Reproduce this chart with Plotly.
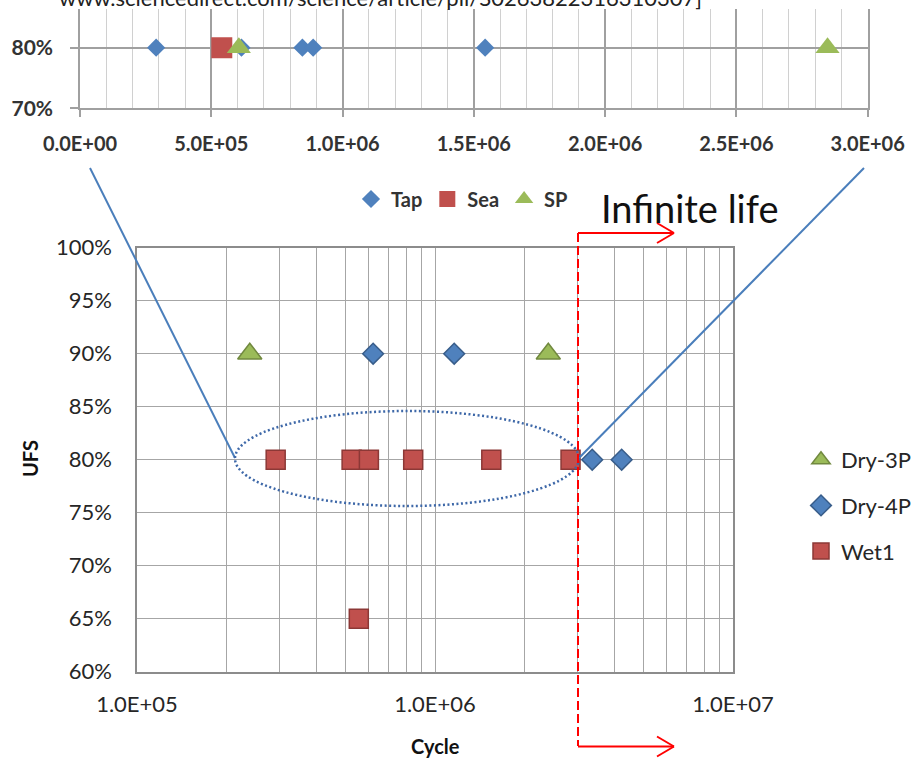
import plotly.graph_objects as go

W, H = 916, 760
def px(x): return x / W
def py(y): return 1 - y / H

FONT = "Lato"

# ---------------- data: main chart (log cycles vs UFS) ----------------
dry3p_x = [2.39e5, 2.40e6]
dry3p_y = [0.90, 0.90]
dry4p_x = [6.2e5, 1.16e6, 3.37e6, 4.23e6]
dry4p_y = [0.90, 0.90, 0.80, 0.80]
wet1_x = [2.92e5, 5.25e5, 6.0e5, 8.45e5, 1.545e6, 2.85e6, 5.55e5]
wet1_y = [0.80, 0.80, 0.80, 0.80, 0.80, 0.80, 0.65]

main_x_grid = [m * 10 ** e for e in (5, 6) for m in range(1, 10)] + [1e7]
main_x_text = ["1.0E+05" if v == 1e5 else "1.0E+06" if v == 1e6 else "1.0E+07" if v == 1e7 else "" for v in main_x_grid]
main_y_ticks = [0.60, 0.65, 0.70, 0.75, 0.80, 0.85, 0.90, 0.95, 1.00]
main_y_text = ["60%", "65%", "70%", "75%", "80%", "85%", "90%", "95%", "100%"]

# ---------------- data: inset chart (linear cycles at 80%) ----------------
tap_x = [2.9e5, 6.15e5, 8.47e5, 8.88e5, 1.543e6]
tap_y = [0.80] * 5
sea_x = [5.4e5]
sea_y = [0.80]
sp_x = [6.05e5, 2.847e6]
sp_y = [0.80, 0.80]

inset_x_ticks = [0, 5e5, 1e6, 1.5e6, 2e6, 2.5e6, 3e6]
inset_x_text = ["0.0E+00", "5.0E+05", "1.0E+06", "1.5E+06", "2.0E+06", "2.5E+06", "3.0E+06"]
inset_y_ticks = [0.70, 0.80]
inset_y_text = ["70%", "80%"]

BLUE, BLUE_L = "#4F81BD", "#385D8A"
RED, RED_L = "#C0504D", "#8C3836"
GREEN, GREEN_L = "#9BBB59", "#71893F"

fig = go.Figure()

# inset traces
fig.add_trace(go.Scatter(x=tap_x, y=tap_y, mode="markers", name="Tap", xaxis="x2", yaxis="y2",
                         legend="legend2",
                         marker=dict(symbol="diamond", size=14, color=BLUE, line=dict(width=0))))
fig.add_trace(go.Scatter(x=sea_x, y=sea_y, mode="markers", name="Sea", xaxis="x2", yaxis="y2",
                         legend="legend2",
                         marker=dict(symbol="square", size=21, color=RED, line=dict(width=0))))
fig.add_trace(go.Scatter(x=sp_x, y=sp_y, mode="markers", name="SP", xaxis="x2", yaxis="y2",
                         legend="legend2",
                         marker=dict(symbol="triangle-up", size=21, color=GREEN, line=dict(width=0))))

# main traces
fig.add_trace(go.Scatter(x=dry3p_x, y=dry3p_y, mode="markers", name="Dry-3P", legendgroup="a",
                         marker=dict(symbol="triangle-up", size=21, color=GREEN, line=dict(width=1.5, color=GREEN_L))))
fig.add_trace(go.Scatter(x=dry4p_x, y=dry4p_y, mode="markers", name="Dry-4P", legendgroup="b",
                         marker=dict(symbol="diamond", size=16, color=BLUE, line=dict(width=1.5, color=BLUE_L))))
fig.add_trace(go.Scatter(x=wet1_x, y=wet1_y, mode="markers", name="Wet1", legendgroup="c",
                         marker=dict(symbol="square", size=19, color=RED, line=dict(width=1.5, color=RED_L))))

GRID = "#a6a6a6"
AX = "#8c8c8c"
TXT = "#262626"

fig.update_layout(
    template="none",
    width=W, height=H, margin=dict(l=0, r=0, t=0, b=0, autoexpand=False),
    paper_bgcolor="white", plot_bgcolor="white",
    font=dict(family=FONT, color=TXT),
    xaxis=dict(domain=[px(137), px(733)], anchor="y", type="log", range=[5, 7], automargin=False,
               tickvals=main_x_grid, ticktext=main_x_text, showgrid=True, gridcolor=GRID, gridwidth=1.3,
               showline=True, linecolor=AX, linewidth=1.5, mirror=True, ticks="", zeroline=False,
               tickfont=dict(size=22, color=TXT), ticklabelstandoff=12),
    yaxis=dict(domain=[py(671.7), py(247.7)], anchor="x", range=[0.60, 1.00], automargin=False,
               tickvals=main_y_ticks, ticktext=main_y_text, showgrid=True, gridcolor=GRID, gridwidth=1.3,
               showline=True, linecolor=AX, linewidth=1.5, mirror=True, ticks="", zeroline=False,
               tickfont=dict(size=22, color=TXT), ticklabelstandoff=19),
    xaxis2=dict(domain=[px(80), px(867.7)], anchor="y2", range=[0, 3e6], automargin=False,
                tickvals=inset_x_ticks, ticktext=inset_x_text, showgrid=True, gridcolor="#a0a0a0", gridwidth=1.5,
                minor=dict(dtick=1e5, tick0=0, showgrid=True, gridcolor="#d0d0d0", gridwidth=1.3, ticks=""),
                showline=True, linecolor="#a0a0a0", linewidth=1.5, ticks="outside", ticklen=7,
                tickcolor="#a0a0a0", tickwidth=1.5, zeroline=False,
                tickfont=dict(size=20, color="#333333", weight="bold"), ticklabelstandoff=10),
    yaxis2=dict(domain=[py(108.3), py(9)], anchor="x2", range=[0.70, 0.8639], automargin=False,
                tickvals=inset_y_ticks, ticktext=inset_y_text, showgrid=True, gridcolor="#a0a0a0", gridwidth=1.5,
                showline=True, linecolor="#a0a0a0", linewidth=1.5, mirror=True, ticks="outside", ticklen=8,
                tickcolor="#a0a0a0", tickwidth=1.5, zeroline=False,
                tickfont=dict(size=21, color="#333333", weight="bold"), ticklabelstandoff=13),
    legend=dict(x=px(801), y=py(439), xanchor="left", yanchor="top", font=dict(size=22, color=TXT),
                bgcolor="rgba(0,0,0,0)", tracegroupgap=14, itemsizing="trace"),
    legend2=dict(x=px(462), y=py(199), xanchor="center", yanchor="middle", orientation="h",
                 font=dict(size=20, color="#333333", weight="bold"), bgcolor="rgba(0,0,0,0)"),
    showlegend=True,
)

shapes = []
# zoom connector lines
shapes.append(dict(type="line", xref="paper", yref="paper", x0=px(90), y0=py(168), x1=px(235), y1=py(458),
                   line=dict(color="#4A7EBB", width=2)))
shapes.append(dict(type="line", xref="paper", yref="paper", x0=px(579), y0=py(458), x1=px(864), y1=py(168),
                   line=dict(color="#4A7EBB", width=2)))
# dotted ellipse
shapes.append(dict(type="circle", xref="paper", yref="paper", x0=px(235), x1=px(579), y0=py(506), y1=py(411),
                   line=dict(color="#3E68A8", width=2.5, dash="2px,2.5px")))
# red infinite-life marker
RC = "#FF0000"
shapes.append(dict(type="line", xref="paper", yref="paper", x0=px(578), x1=px(578), y0=py(233), y1=py(746),
                   line=dict(color=RC, width=2, dash="9px,4px")))
for yy in (233, 746.5):
    shapes.append(dict(type="line", xref="paper", yref="paper", x0=px(578), x1=px(674), y0=py(yy), y1=py(yy),
                       line=dict(color=RC, width=2)))
    shapes.append(dict(type="line", xref="paper", yref="paper", x0=px(657), x1=px(674), y0=py(yy - 10), y1=py(yy),
                       line=dict(color=RC, width=2)))
    shapes.append(dict(type="line", xref="paper", yref="paper", x0=px(657), x1=px(674), y0=py(yy + 10), y1=py(yy),
                       line=dict(color=RC, width=2)))
fig.update_layout(shapes=shapes)

annotations = [
    dict(text="www.sciencedirect.com/science/article/pii/S0263822316310307]", xref="paper", yref="paper",
         x=px(704), y=py(13), xanchor="right", yanchor="bottom", showarrow=False,
         font=dict(size=22, color="#222222", family=FONT)),
    dict(text="Infinite life", xref="paper", yref="paper", x=px(690), y=py(208), xanchor="center",
         yanchor="middle", showarrow=False, font=dict(size=38, color="#111111", family=FONT)),
    dict(text="<b>UFS</b>", xref="paper", yref="paper", x=px(30), y=py(459), textangle=-90,
         xanchor="center", yanchor="middle", showarrow=False, font=dict(size=20, color="#111111", family=FONT)),
    dict(text="<b>Cycle</b>", xref="paper", yref="paper", x=px(435), y=py(746), xanchor="center",
         yanchor="middle", showarrow=False, font=dict(size=20, color="#111111", family=FONT)),
]
fig.update_layout(annotations=annotations)

fig.write_html("out.html")
